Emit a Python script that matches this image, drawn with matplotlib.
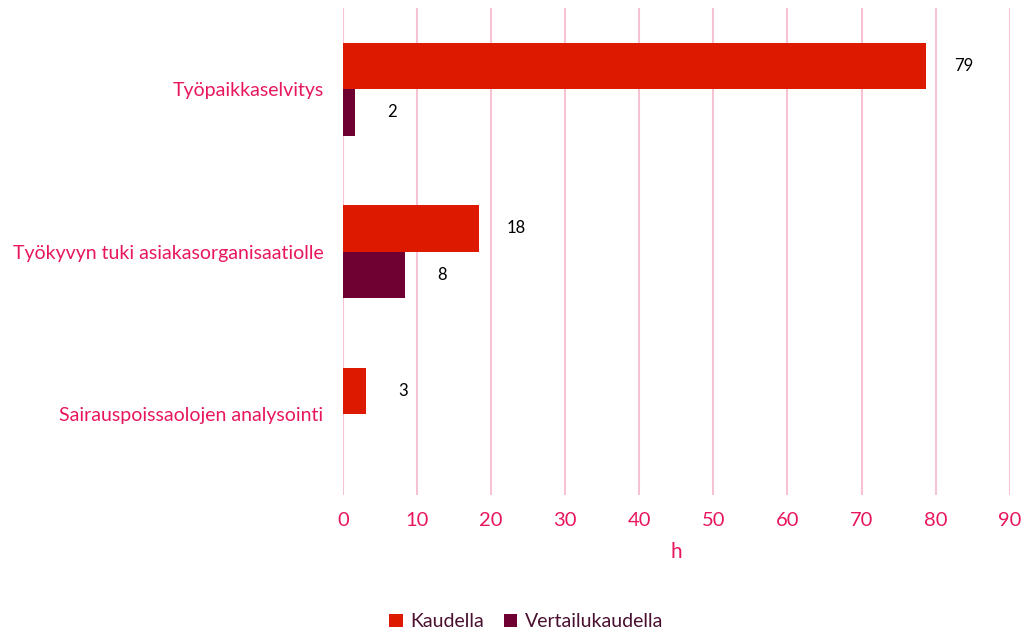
import matplotlib.pyplot as plt
import numpy as np

# values (hours)
categories = ['Työpaikkaselvitys', 'Työkyvyn tuki asiakasorganisaatiolle', 'Sairauspoissaolojen analysointi']
kaudella = [78.7, 18.3, 3.1]
vertailukaudella = [1.6, 8.3, np.nan]
series_names = ['Kaudella', 'Vertailukaudella']
xticks = list(range(0, 100, 10))

RED = '#dd1900'
PURPLE = '#6e0032'
PINK_TEXT = '#e8175d'
GRID = '#f8c2d6'

plt.rcParams['font.family'] = ['Lato', 'DejaVu Sans']

fig = plt.figure(figsize=(10.24, 6.32), dpi=100)
ax = fig.add_axes([0.335, 0.217, 0.651, 0.770])

y = np.arange(len(categories))
h = 0.285
bars1 = ax.barh(y - h / 2, kaudella, height=h, color=RED, label=series_names[0], zorder=3)
bars2 = ax.barh(y + h / 2, vertailukaudella, height=h, color=PURPLE, label=series_names[1], zorder=3)

for bars, vals in ((bars1, kaudella), (bars2, vertailukaudella)):
    for b, v in zip(bars, vals):
        if np.isnan(v):
            continue
        ax.annotate(f'{v:.0f}', (v, b.get_y() + b.get_height() / 2),
                    xytext=(27, 0), textcoords='offset points',
                    ha='center', va='center', fontsize=12, color='black')

ax.set_ylim(len(categories) - 0.5, -0.5)
ax.set_xlim(0, 90)
ax.set_xticks(xticks)
ax.set_yticks(y)
ax.set_yticklabels(categories)
ax.tick_params(axis='y', length=0, pad=14, labelsize=14, labelcolor=PINK_TEXT)
ax.tick_params(axis='x', length=0, pad=12, labelsize=14.5, labelcolor=PINK_TEXT)
ax.grid(axis='x', color=GRID, linewidth=1.5, zorder=0)
for s in ax.spines.values():
    s.set_visible(False)

ax.set_xlabel('h', fontsize=15, color=PINK_TEXT, labelpad=10)

leg = fig.legend(loc='lower center', bbox_to_anchor=(0.514, -0.025), ncol=2, frameon=False,
                 fontsize=14, handlelength=0.7, handleheight=0.7, handletextpad=0.4,
                 columnspacing=1.0)
for t in leg.get_texts():
    t.set_color('#4a1030')

fig.savefig('out.png', dpi=100)
